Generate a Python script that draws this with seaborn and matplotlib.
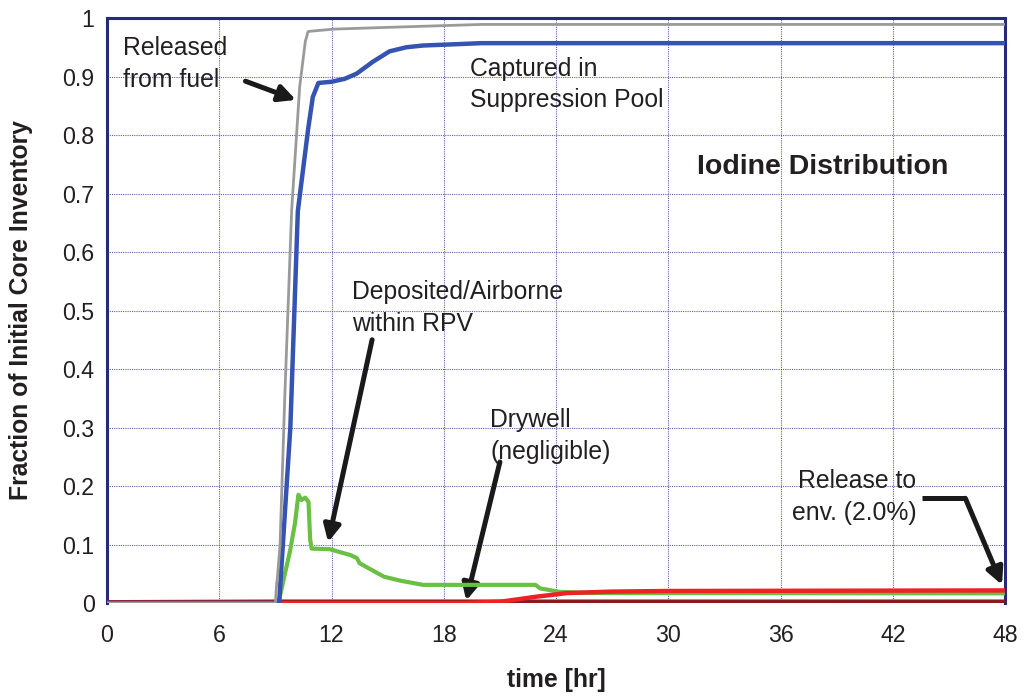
import matplotlib
matplotlib.use("Agg")
import matplotlib.pyplot as plt
import seaborn as sns
import pandas as pd
import numpy as np

# curves (time in hr, fraction of initial inventory)
t_fuel = [0, 9.0, 9.07, 9.1, 9.25, 9.5, 9.87, 10.3, 10.6, 10.75, 12.1, 15, 18, 20, 48]
released_fuel = [0, 0, 0.035, 0.04, 0.1, 0.35, 0.672, 0.883, 0.96, 0.977, 0.981, 0.984, 0.987, 0.989, 0.989]

t_pool = [0, 9.2, 9.4, 9.8, 10.2, 10.75, 11.0, 11.3, 12.0, 12.7, 13.35, 14.2, 15.1, 16.0, 16.9, 18.5, 20, 48]
captured_pool = [0, 0, 0.1, 0.3, 0.67, 0.81, 0.865, 0.889, 0.891, 0.896, 0.905, 0.925, 0.943, 0.95, 0.953, 0.955, 0.957, 0.957]

t_rpv = [9.16, 9.79, 10.05, 10.23, 10.4, 10.59, 10.77, 10.86, 10.94, 11.9, 13.0, 13.35, 13.5, 14.8, 15.7,
         16.9, 18.0, 22.9, 23.15, 24.2, 26, 48]
deposited_rpv = [0, 0.09, 0.137, 0.185, 0.176, 0.18, 0.173, 0.108, 0.093, 0.092, 0.082, 0.077, 0.068, 0.045, 0.038,
                 0.031, 0.031, 0.031, 0.025, 0.019, 0.017, 0.0165]

t_drywell = [0, 9.2, 48]
drywell = [0.001, 0.002, 0.002]

t_env = [0, 19.0, 21.0, 23.0, 24.6, 27.0, 30.0, 48]
release_env = [0, 0, 0.002, 0.011, 0.017, 0.0195, 0.0205, 0.0215]

xticks = [0, 6, 12, 18, 24, 30, 36, 42, 48]
yticks = [0, 0.1, 0.2, 0.3, 0.4, 0.5, 0.6, 0.7, 0.8, 0.9, 1]
ytick_labels = ["0", "0.1", "0.2", "0.3", "0.4", "0.5", "0.6", "0.7", "0.8", "0.9", "1"]

sns.set_style("white")
plt.rcParams['font.family'] = ['Liberation Sans', 'DejaVu Sans']
text_col = "#231f20"
navy = "#262a7a"

fig = plt.figure(figsize=(10.25, 6.98), dpi=100)
ax = fig.add_axes([0.1044, 0.1361, 0.8761, 0.8381])

sns.lineplot(x=t_drywell, y=drywell, color="#8b1a1a", lw=3.4, ax=ax, zorder=3)
sns.lineplot(x=t_rpv, y=deposited_rpv, color="#6abf45", lw=3.0, ax=ax, zorder=4)
sns.lineplot(x=t_env, y=release_env, color="#ec2227", lw=3.2, ax=ax, zorder=5)
sns.lineplot(x=t_pool, y=captured_pool, color="#3553b0", lw=3.2, ax=ax, zorder=6)
sns.lineplot(x=t_fuel, y=released_fuel, color="#9a9a9a", lw=2.0, ax=ax, zorder=7)

ax.set_xlim(0, 48)
ax.set_ylim(0, 1)
ax.set_xticks(xticks)
ax.set_yticks(yticks)
ax.set_yticklabels(ytick_labels)
ax.grid(True, color="#3a3a9a", linestyle=(0, (1, 1)), linewidth=0.8, alpha=0.8)
ax.set_axisbelow(True)

for side in ["left", "top", "right"]:
    ax.spines[side].set_color(navy)
    ax.spines[side].set_linewidth(2.2)
ax.spines["bottom"].set_visible(False)
ax.tick_params(axis="y", direction="inout", length=10, width=1, color="#7a7ab0",
               labelsize=16.7, labelcolor=text_col, pad=4)
ax.tick_params(axis="x", direction="out", length=5, width=1, color=navy,
               labelsize=16.7, labelcolor=text_col, pad=10)

ax.set_xlabel("time [hr]", fontsize=17.8, fontweight="bold", color=text_col, labelpad=15)
ax.set_ylabel("Fraction of Initial Core Inventory", fontsize=17.8, fontweight="bold", color=text_col, labelpad=21)

arrow = dict(arrowstyle="-|>,head_length=1.0,head_width=0.5", color="#1a1a1a", lw=3.6, shrinkA=0, shrinkB=0)
fs = 17.8
ls = 1.4

ax.text(0.86, 0.921, "Released\nfrom fuel", fontsize=fs, color=text_col, ha="left", va="center", linespacing=ls)
ax.annotate("", xy=(10.1, 0.86), xytext=(7.4, 0.892), arrowprops=arrow)

ax.text(19.41, 0.886, "Captured in\nSuppression Pool", fontsize=fs, color=text_col, ha="left", va="center",
        linespacing=ls)
ax.text(31.55, 0.745, "Iodine Distribution", fontsize=20.5, fontweight="bold", color=text_col,
        ha="left", va="center")

ax.text(13.1, 0.504, "Deposited/Airborne\nwithin RPV", fontsize=fs, color=text_col, ha="left", va="center",
        linespacing=ls)
ax.annotate("", xy=(11.82, 0.104), xytext=(14.17, 0.45), arrowprops=arrow)

ax.text(20.48, 0.285, "Drywell\n(negligible)", fontsize=fs, color=text_col, ha="left", va="center",
        linespacing=ls)
ax.annotate("", xy=(19.2, 0.004), xytext=(21.0, 0.241), arrowprops=arrow)

ax.text(43.26, 0.181, "Release to\nenv. (2.0%)", fontsize=fs, color=text_col, ha="right", va="center",
        linespacing=ls, multialignment="right")
ax.plot([43.56, 45.88], [0.179, 0.179], color="#1a1a1a", lw=3.6, solid_capstyle="butt")
ax.annotate("", xy=(47.84, 0.031), xytext=(45.88, 0.179), arrowprops=arrow)

fig.savefig("out.png", dpi=100)
